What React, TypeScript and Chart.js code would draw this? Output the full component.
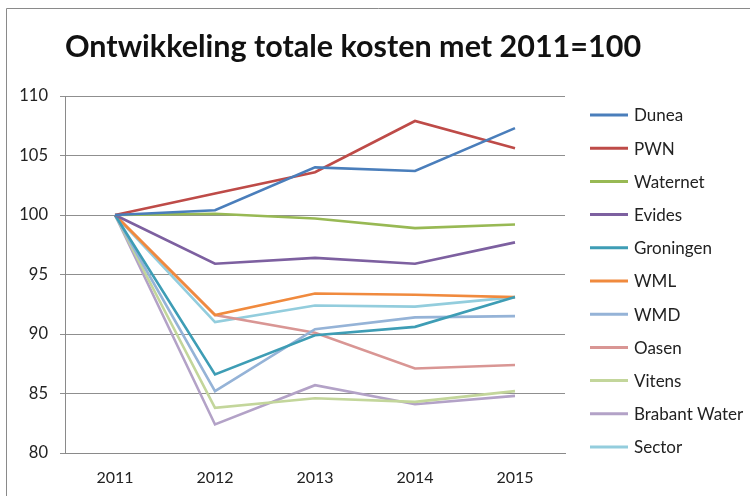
import React, { useEffect, useRef } from "react";
import { Chart, registerables } from "chart.js";

Chart.register(...registerables);

const titleText = "Ontwikkeling totale kosten met 2011=100";
const categories = ["2011", "2012", "2013", "2014", "2015"];
const seriesNames = ["Dunea", "PWN", "Waternet", "Evides", "Groningen", "WML", "WMD", "Oasen", "Vitens", "Brabant Water", "Sector"];
const dunea = [100, 100.4, 104.0, 103.7, 107.3];
const pwn = [100, 101.8, 103.6, 107.9, 105.6];
const waternet = [100, 100.1, 99.7, 98.9, 99.2];
const evides = [100, 95.9, 96.4, 95.9, 97.7];
const groningen = [100, 86.6, 89.9, 90.6, 93.1];
const wml = [100, 91.6, 93.4, 93.3, 93.1];
const wmd = [100, 85.2, 90.4, 91.4, 91.5];
const oasen = [100, 91.6, 90.1, 87.1, 87.4];
const vitens = [100, 83.8, 84.6, 84.3, 85.2];
const brabant = [100, 82.4, 85.7, 84.1, 84.8];
const sector = [100, 91.0, 92.4, 92.3, 93.1];
const seriesValues = [dunea, pwn, waternet, evides, groningen, wml, wmd, oasen, vitens, brabant, sector];
const seriesColors = ["#4A7EBB", "#BE4B48", "#98B954", "#7D60A0", "#3E9DB5", "#F08A3E", "#95B3D7", "#D99694", "#C3D69B", "#B3A2C7", "#93CDDD"];
const yTicks = [80, 85, 90, 95, 100, 105, 110];

const FONT = "Lato, 'Noto Sans', sans-serif";

const decorPlugin = {
  id: "decor",
  afterDraw(chart: any) {
    const ctx = chart.ctx as CanvasRenderingContext2D;
    ctx.save();
    // frame
    ctx.strokeStyle = "#8a8a8a";
    ctx.lineWidth = 1;
    ctx.beginPath();
    ctx.moveTo(6.5, 496);
    ctx.lineTo(6.5, 8.5);
    ctx.lineTo(750, 8.5);
    ctx.stroke();
    // title
    ctx.fillStyle = "#111";
    ctx.font = `bold 30.5px ${FONT}`;
    ctx.textAlign = "center";
    ctx.textBaseline = "middle";
    ctx.fillText(titleText, 353, 47);
    // legend
    ctx.font = `17px ${FONT}`;
    ctx.textAlign = "left";
    chart.data.datasets.forEach((ds: any, i: number) => {
      const y = 115 + i * 33.2;
      ctx.strokeStyle = ds.borderColor;
      ctx.lineWidth = 3;
      ctx.beginPath();
      ctx.moveTo(590, y);
      ctx.lineTo(628, y);
      ctx.stroke();
      ctx.fillStyle = "#222";
      ctx.fillText(ds.label, 634, y + 1);
    });
    ctx.restore();
  },
};

export default function App() {
  const ref = useRef<HTMLCanvasElement | null>(null);
  useEffect(() => {
    if (!ref.current) return;
    const chart = new Chart(ref.current, {
      type: "line",
      data: {
        labels: categories,
        datasets: seriesNames.map((name, i) => ({
          label: name,
          data: seriesValues[i],
          borderColor: seriesColors[i],
          backgroundColor: seriesColors[i],
          borderWidth: 2.6,
          pointRadius: 0,
          tension: 0,
          fill: false,
        })),
      },
      options: {
        animation: false,
        responsive: true,
        maintainAspectRatio: false,
        layout: { padding: { left: 0, top: 96, right: 185, bottom: 0 } },
        plugins: {
          legend: { display: false },
          title: { display: false },
          tooltip: { enabled: false },
        },
        scales: {
          x: {
            offset: true,
            grid: { display: false, drawTicks: false },
            border: { display: true, color: "#8a8a8a", width: 1 },
            ticks: { color: "#222", font: { family: FONT, size: 16 }, padding: 15 },
            afterFit: (scale: any) => {
              scale.height = 43;
            },
          },
          y: {
            min: 80,
            max: 110,
            afterBuildTicks: (scale: any) => {
              scale.ticks = yTicks.map((v) => ({ value: v }));
            },
            grid: { color: "#8f8f8f", lineWidth: 1, tickLength: 5, drawTicks: true },
            border: { display: true, color: "#8a8a8a", width: 1 },
            ticks: { color: "#222", font: { family: FONT, size: 16.5 }, padding: 12 },
            afterFit: (scale: any) => {
              scale.width = 65;
            },
          },
        },
      },
      plugins: [decorPlugin],
    });
    return () => chart.destroy();
  }, []);
  return (
    <div style={{ position: "fixed", left: 0, top: 0, width: 750, height: 496, background: "#fff" }}>
      <canvas ref={ref} />
    </div>
  );
}
